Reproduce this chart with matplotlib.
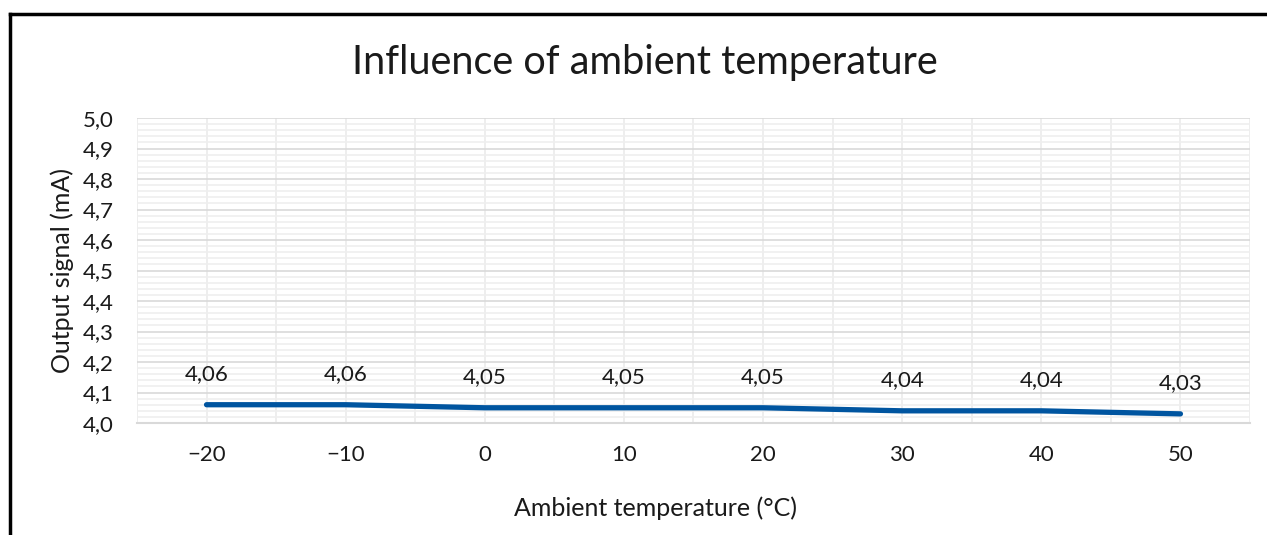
import matplotlib.pyplot as plt
import numpy as np
from matplotlib.ticker import MultipleLocator, FuncFormatter
from matplotlib.lines import Line2D

# data
temperatures = [-20, -10, 0, 10, 20, 30, 40, 50]
output_ma = [4.06, 4.06, 4.05, 4.05, 4.05, 4.04, 4.04, 4.03]
value_labels = ['4,06', '4,06', '4,05', '4,05', '4,05', '4,04', '4,04', '4,03']

plt.rcParams['font.family'] = ['Lato', 'DejaVu Sans']

fig = plt.figure(figsize=(12.67, 5.35), dpi=100)
ax = fig.add_axes([0.1081, 0.2093, 0.8785, 0.5701])

ax.plot(temperatures, output_ma, color='#0055A0', lw=3.8,
        solid_capstyle='round', solid_joinstyle='round', zorder=3)

for x, y, lab in zip(temperatures, output_ma, value_labels):
    ax.annotate(lab, (x, y), xytext=(0, 22), textcoords='offset points',
                ha='center', va='center', fontsize=16, color='#1a1a1a')

ax.set_xlim(-25, 55)
ax.set_ylim(4.0, 5.0)
ax.set_xticks(temperatures)
ax.xaxis.set_minor_locator(MultipleLocator(5))
ax.yaxis.set_major_locator(MultipleLocator(0.1))
ax.yaxis.set_minor_locator(MultipleLocator(0.02))
ax.xaxis.set_major_formatter(FuncFormatter(lambda v, p: f'{v:.0f}'.replace('-', '\u2212')))
ax.yaxis.set_major_formatter(FuncFormatter(lambda v, p: f'{v:.1f}'.replace('.', ',')))

ax.grid(which='major', axis='y', color='#d9d9d9', lw=1.2)
ax.grid(which='minor', axis='y', color='#efefef', lw=1.2)
ax.grid(which='both', axis='x', color='#ebebeb', lw=1.2)
ax.set_axisbelow(True)

for s in ['top', 'right', 'left']:
    ax.spines[s].set_visible(False)
ax.spines['bottom'].set_color('#d9d9d9')
ax.spines['bottom'].set_linewidth(1.5)

ax.tick_params(which='both', length=0)
ax.tick_params(axis='x', labelsize=16, pad=16, colors='#1a1a1a')
ax.tick_params(axis='y', labelsize=16, pad=17, colors='#1a1a1a')

ax.set_ylabel('Output signal (mA)', fontsize=18, labelpad=6, color='#1a1a1a')
fig.text(655 / 1267, 1 - 508 / 535, 'Ambient temperature (°C)', ha='center',
         va='center', fontsize=18, color='#1a1a1a')
fig.text(645 / 1267, 1 - 62 / 535, 'Influence of ambient temperature', ha='center',
         va='center', fontsize=28.5, color='#1a1a1a')

# chart frame (only top and left edges are in view)
fig.add_artist(Line2D([10 / 1267, 10 / 1267], [0, 1 - 14 / 535], color='black', lw=2.5))
fig.add_artist(Line2D([10 / 1267, 1], [1 - 14 / 535, 1 - 14 / 535], color='black', lw=2.5))

fig.savefig('out.png', dpi=100)
